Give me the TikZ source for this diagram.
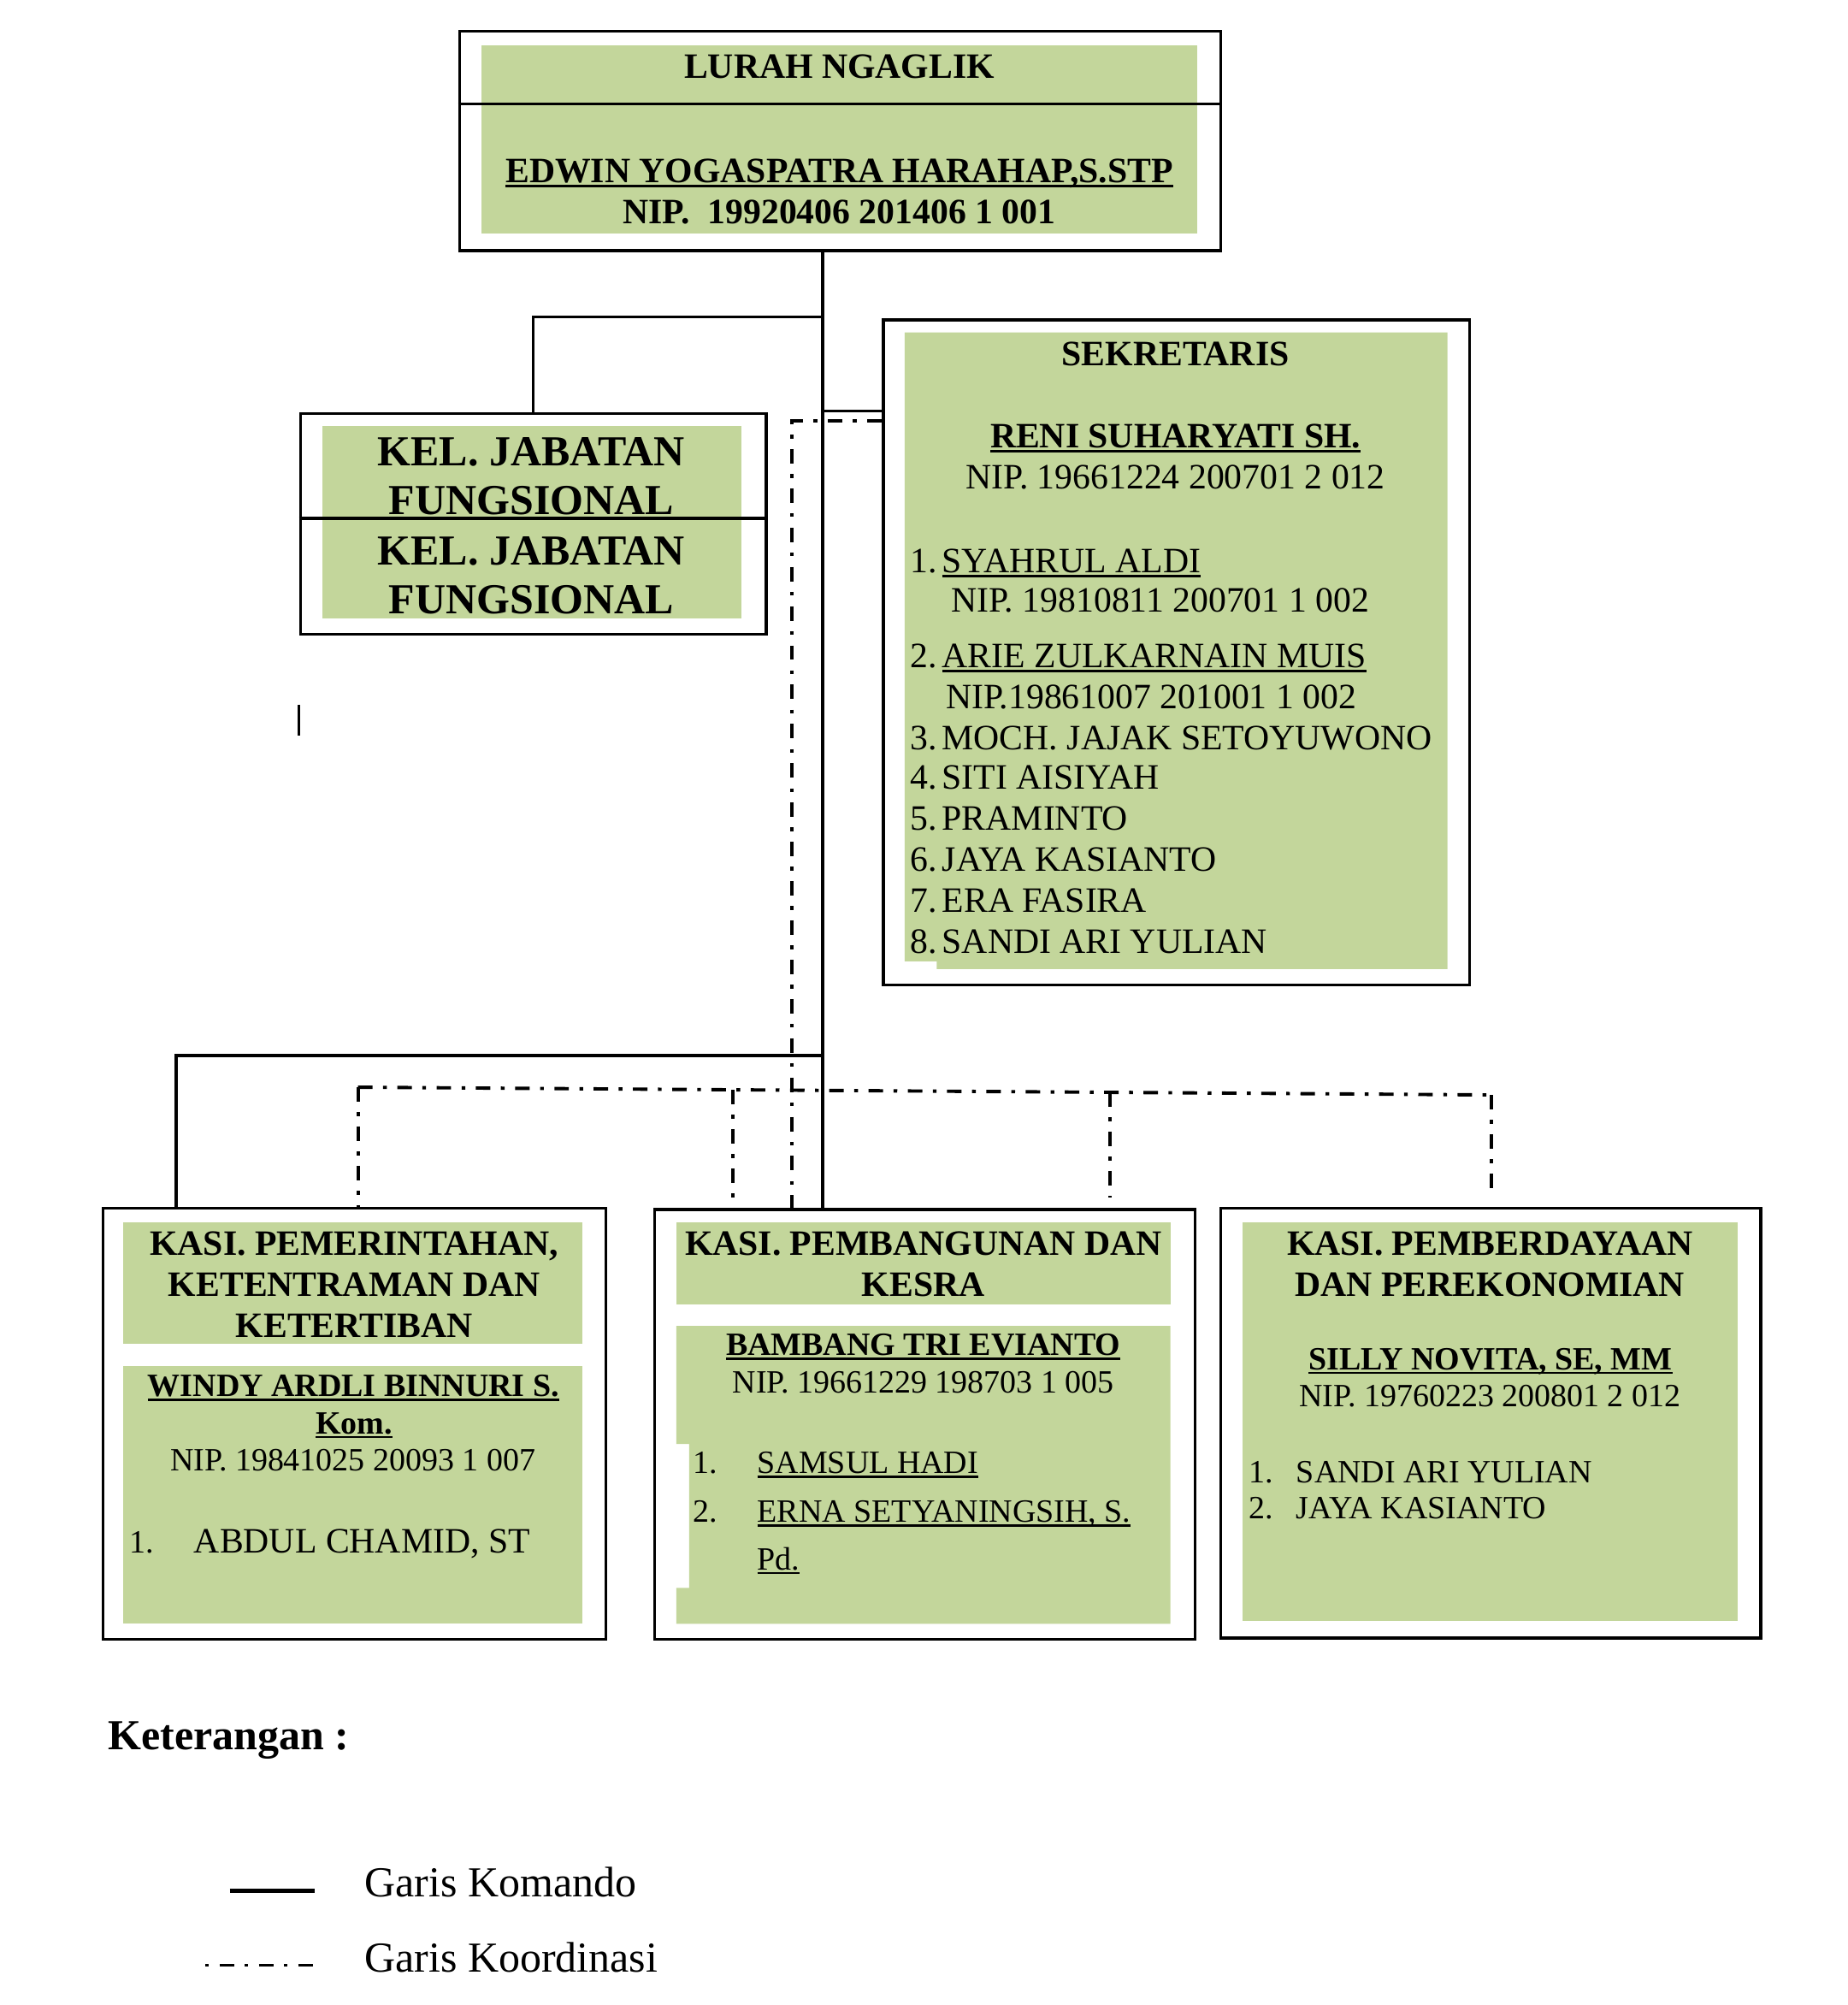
\documentclass[tikz,border=0pt]{standalone}
\usepackage{fontspec}
\setmainfont{Liberation Serif}
\usetikzlibrary{calc}
\definecolor{olv}{RGB}{195,214,155}
\newcommand\szA{\fontsize{27.8pt}{32pt}\selectfont}
\newcommand\szB{\fontsize{25.3pt}{29pt}\selectfont}
\newcommand\szC{\fontsize{33.3pt}{38pt}\selectfont}
\newcommand\myul[1]{\setbox0=\hbox{#1}\rlap{\rule[-0.13em]{\wd0}{0.065em}}\box0}
\tikzset{
  obox/.style={draw, line width=2.4pt, rectangle, inner sep=0pt, anchor=north west},
  txt/.style={inner sep=0pt, anchor=base, font=\szA},
  txtl/.style={inner sep=0pt, anchor=base west, font=\szA},
  cmd/.style={line width=2.2pt},
  cmdthick/.style={line width=2.7pt},
  crd/.style={line width=2.6pt, dash pattern=on 11.3pt off 8.2pt on 2.9pt off 8.2pt},
}
\begin{document}
\begin{tikzpicture}[x=1pt,y=-1pt]
\useasboundingbox (0,0) rectangle (1440,1562);
% green fills
\fill[olv] (375,35) rectangle (933,182);
\fill[olv] (251,332) rectangle (578,482);
\fill[olv] (705,259) -- (1128,259) -- (1128,755) -- (730,755) -- (730,749) -- (705,749) -- cycle;
\fill[olv] (96,952) rectangle (454,1047);
\fill[olv] (96,1064) rectangle (454,1265);
\fill[olv] (527,952) rectangle (912,1016);
\fill[olv] (527,1033) -- (912,1033) -- (912,1265) -- (527,1265) -- (527,1237) -- (537,1237) -- (537,1125) -- (527,1125) -- cycle;
\fill[olv] (968,952) rectangle (1354,1263);
% boxes
\node[obox, minimum width=593, minimum height=171] (lurah) at (357,23) {};
\node[obox, minimum width=363, minimum height=172] (kel) at (233,321) {};
\node[obox, minimum width=457, minimum height=518] (sek) at (687,248) {};
\node[obox, minimum width=392, minimum height=336] (kasia) at (79,940) {};
\node[obox, minimum width=421, minimum height=335] (kasib) at (509,941) {};
\node[obox, minimum width=421, minimum height=335] (kasic) at (950,940) {};
\draw[line width=2.4pt] (lurah.west |- 0,81) -- (lurah.east |- 0,81);
\draw[line width=2.4pt] (kel.west |- 0,404) -- (kel.east |- 0,404);
\draw[line width=2.8pt] (416,195.5) -- (596,195.5);
\draw[line width=1.8pt] (233,549) -- (233,573);
% command lines
\coordinate (jA) at (641,247);
\coordinate (jB) at (641,320);
\coordinate (jC) at (641,822);
\coordinate (jD) at (137,822);
\draw[cmd] (lurah.south -| jA) -- (kasib.north -| jA);
\draw[cmd] (jA) -| (kel.north);
\draw[cmd] (jB) -- (sek.west |- jB);
\draw[cmdthick] (jC) -- (jD) -- (kasia.north -| jD);
% coordination lines
\coordinate (dA) at (617,328);
\draw[crd] (sek.west |- dA) -- (dA) -- (kasib.north -| dA);
\coordinate (k1) at (279,847);
\coordinate (k2) at (571,849);
\coordinate (k3) at (865,851);
\coordinate (k4) at (1162,853);
\draw[crd] (k1) -- (k4);
\draw[crd] (k1) -- (kasia.north -| k1);
\draw[crd] (k2) -- (kasib.north -| k2);
\draw[crd] (k3) -- ($(kasic.north -| k3)+(0,-7)$);
\draw[crd] (k4) -- ($(kasic.north -| k4)+(0,-7)$);
% lurah text
\node[txt] (t1) at (654,61) {\bfseries LURAH NGAGLIK};
\node[txt] (t2) at (654,142) {\bfseries\myul{EDWIN YOGASPATRA HARAHAP,S.STP}};
\node[txt] (t3) at (654,174) {\bfseries NIP.\ \ 19920406 201406 1 001};
% kel text
\node[txt, font=\szC] (k_a) at (414,363) {\bfseries KEL. JABATAN};
\node[txt, font=\szC] (k_b) at (414,401) {\bfseries FUNGSIONAL};
\node[txt, font=\szC] (k_c) at (414,440) {\bfseries KEL. JABATAN};
\node[txt, font=\szC] (k_d) at (414,478) {\bfseries FUNGSIONAL};
% sekretaris text
\node[txt] (s1) at (916,285) {\bfseries SEKRETARIS};
\node[txt] (s2) at (916,349) {\bfseries\myul{RENI SUHARYATI SH.}};
\node[txt] (s3) at (916,381) {NIP. 19661224 200701 2 012};
\node[txtl] (n1) at (709,446) {1.};
\node[txtl] (s4) at (734,446) {\myul{SYAHRUL ALDI}};
\node[txtl] (s5) at (741,477) {NIP. 19810811 200701 1 002};
\node[txtl] (n2) at (709,520) {2.};
\node[txtl] (s6) at (734,520) {\myul{ARIE ZULKARNAIN MUIS}};
\node[txtl] (s7) at (737,552) {NIP.19861007 201001 1 002};
\node[txtl] (n3) at (709,584) {3.};
\node[txtl] (s8) at (734,584) {MOCH. JAJAK SETOYUWONO};
\node[txtl] (n4) at (709,615) {4.};
\node[txtl] (s9) at (734,615) {SITI AISIYAH};
\node[txtl] (n5) at (709,647) {5.};
\node[txtl] (s10) at (734,647) {PRAMINTO};
\node[txtl] (n6) at (709,679) {6.};
\node[txtl] (s11) at (734,679) {JAYA KASIANTO};
\node[txtl] (n7) at (709,711) {7.};
\node[txtl] (s12) at (734,711) {ERA FASIRA};
\node[txtl] (n8) at (709,743) {8.};
\node[txtl] (s13) at (734,743) {SANDI ARI YULIAN};
% kasi a
\node[txt] (a1) at (276,978) {\bfseries KASI. PEMERINTAHAN,};
\node[txt] (a2) at (276,1010) {\bfseries KETENTRAMAN DAN};
\node[txt] (a3) at (276,1042) {\bfseries KETERTIBAN};
\node[txt, font=\szB] (a4) at (275.5,1088) {\bfseries\myul{WINDY ARDLI BINNURI S.}};
\node[txt, font=\szB] (a5) at (276,1117) {\bfseries\myul{Kom.}};
\node[txt, font=\szB] (a6) at (275,1146) {NIP. 19841025 20093 1 007};
\node[txtl, font=\szB] (a7) at (101,1210) {1.};
\node[txtl] (a8) at (151,1210) {ABDUL CHAMID, ST};
% kasi b
\node[txt] (b1) at (719.5,978) {\bfseries KASI. PEMBANGUNAN DAN};
\node[txt] (b2) at (719.5,1010) {\bfseries KESRA};
\node[txt, font=\szB] (b3) at (719.5,1056) {\bfseries\myul{BAMBANG TRI EVIANTO}};
\node[txt, font=\szB] (b4) at (719.5,1085) {NIP. 19661229 198703 1 005};
\node[txtl, font=\szB] (b5) at (540,1148) {1.};
\node[txtl, font=\szB] (b6) at (590,1148) {\myul{SAMSUL HADI}};
\node[txtl, font=\szB] (b7) at (540,1186) {2.};
\node[txtl, font=\szB] (b8) at (590,1186) {\myul{ERNA SETYANINGSIH, S.}};
\node[txtl, font=\szB] (b9) at (590,1223) {\myul{Pd.}};
% kasi c
\node[txt] (c1) at (1161,978) {\bfseries KASI. PEMBERDAYAAN};
\node[txt] (c2) at (1161,1010) {\bfseries DAN PEREKONOMIAN};
\node[txt, font=\szB] (c3) at (1161.5,1067) {\bfseries\myul{SILLY NOVITA, SE, MM}};
\node[txt, font=\szB] (c4) at (1161,1096) {NIP. 19760223 200801 2 012};
\node[txtl, font=\szB] (c5) at (973,1155) {1.};
\node[txtl, font=\szB] (c6) at (1010,1155) {SANDI ARI YULIAN};
\node[txtl, font=\szB] (c7) at (973,1183) {2.};
\node[txtl, font=\szB] (c8) at (1010,1183) {JAYA KASIANTO};
% legend
\node[txtl, font=\szC] (leg) at (84,1363) {\bfseries Keterangan :};
\coordinate (l1a) at (179,1473);
\coordinate (l1b) at (245,1473);
\draw[line width=2.8pt] (l1a) -- (l1b);
\node[txtl, font=\szC] (leg1) at (284,1478) {Garis Komando};
\coordinate (l2a) at (160,1531);
\coordinate (l2b) at (249,1531);
\draw[crd, dash phase=19.5pt] (l2a) -- (l2b);
\node[txtl, font=\szC] (leg2) at (284,1536) {Garis Koordinasi};
\end{tikzpicture}
\end{document}
